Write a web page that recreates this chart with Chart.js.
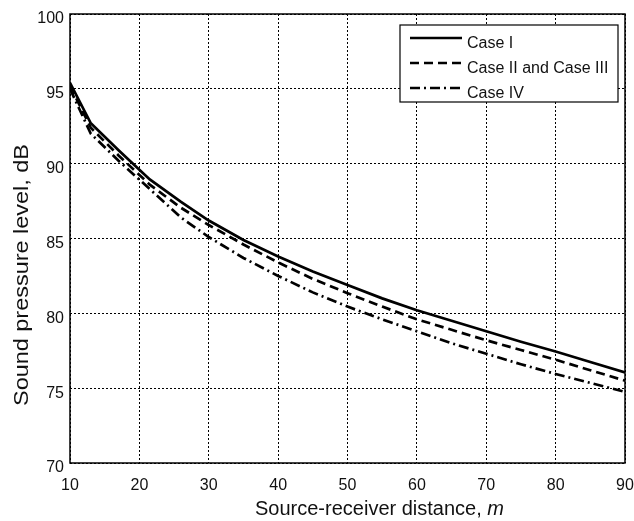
<!DOCTYPE html>
<html>
<head>
<meta charset="utf-8">
<script src="https://cdn.jsdelivr.net/npm/chart.js@4.4.1/dist/chart.umd.min.js"></script>
<style>
  html, body { margin: 0; padding: 0; background: #fff; }
  #wrap { width: 634px; height: 521px; }
</style>
</head>
<body>
<div id="wrap"><canvas id="chart" width="634" height="521"></canvas></div>
<script>
// distances (m) and sound pressure levels (dB)
const distances = [10, 13, 17, 21.5, 26, 30, 35, 40, 45, 50, 55, 60, 65, 70, 75, 80, 85, 90];
const caseI     = [95.4, 92.7, 90.9, 88.95, 87.45, 86.2, 84.9, 83.8, 82.8, 81.9, 81.0, 80.2, 79.5, 78.8, 78.1, 77.45, 76.75, 76.05];
const caseII    = [95.2, 92.4, 90.55, 88.6, 87.05, 85.9, 84.6, 83.4, 82.3, 81.35, 80.45, 79.6, 78.9, 78.2, 77.55, 76.9, 76.2, 75.5];
const caseIV    = [95.0, 92.0, 90.2, 88.3, 86.4, 85.1, 83.7, 82.5, 81.4, 80.45, 79.6, 78.8, 78.0, 77.3, 76.6, 75.95, 75.35, 74.75];
const seriesLabels = ["Case I", "Case II and Case III", "Case IV"];
const xTicks = [10, 20, 30, 40, 50, 60, 70, 80, 90];
const yTicks = [70, 75, 80, 85, 90, 95, 100];

const FONT = "'Liberation Sans', Arial, Helvetica, sans-serif";

const toPoints = (ys) => distances.map((d, i) => ({ x: d, y: ys[i] }));

const styles = [
  { dash: [] },
  { dash: [9, 5] },
  { dash: [10, 4, 2, 4] }
];

// frame, axis titles and the boxed legend, MATLAB style
const decor = {
  id: "decor",
  afterDraw(chart) {
    const ctx = chart.ctx;
    const a = chart.chartArea;
    ctx.save();

    // full box around the axes
    ctx.strokeStyle = "#000";
    ctx.lineWidth = 1.5;
    ctx.setLineDash([]);
    ctx.strokeRect(a.left, a.top, a.right - a.left, a.bottom - a.top);

    // y title
    ctx.save();
    ctx.translate(22, 275);
    ctx.rotate(-Math.PI / 2);
    ctx.font = "20px " + FONT;
    ctx.fillStyle = "#111";
    ctx.textAlign = "center";
    ctx.textBaseline = "middle";
    const yt = "Sound pressure level, dB";
    const w = ctx.measureText(yt).width;
    ctx.scale(262 / w, 1);
    ctx.fillText(yt, 0, 0);
    ctx.restore();

    // x title with italic unit
    ctx.font = "20px " + FONT;
    ctx.fillStyle = "#111";
    ctx.textAlign = "left";
    ctx.textBaseline = "alphabetic";
    const xt = "Source-receiver distance, ";
    ctx.fillText(xt, 255, 515);
    const xw = ctx.measureText(xt).width;
    ctx.font = "italic 20px " + FONT;
    ctx.fillText("m", 255 + xw, 515);

    // legend
    const lx = 400, ly = 25, lw = 218, lh = 77;
    ctx.fillStyle = "#fff";
    ctx.fillRect(lx, ly, lw, lh);
    ctx.strokeStyle = "#000";
    ctx.lineWidth = 1.2;
    ctx.strokeRect(lx, ly, lw, lh);
    const rows = [38, 63, 88];
    chart.data.datasets.forEach((ds, i) => {
      ctx.beginPath();
      ctx.lineWidth = 2.7;
      ctx.setLineDash(ds.borderDash || []);
      ctx.moveTo(410, rows[i]);
      ctx.lineTo(462, rows[i]);
      ctx.stroke();
      ctx.setLineDash([]);
      ctx.font = "16px " + FONT;
      ctx.fillStyle = "#111";
      ctx.textBaseline = "middle";
      ctx.fillText(ds.label, 467, rows[i] + 6);
    });

    ctx.restore();
  }
};

new Chart(document.getElementById("chart"), {
  type: "line",
  data: {
    datasets: [caseI, caseII, caseIV].map((ys, i) => ({
      label: seriesLabels[i],
      data: toPoints(ys),
      borderColor: "#000",
      borderWidth: 2.7,
      borderDash: styles[i].dash,
      pointRadius: 0,
      tension: 0,
      fill: false
    }))
  },
  options: {
    responsive: false,
    animation: false,
    layout: { padding: { left: 0, top: 14, right: 9, bottom: 0 } },
    plugins: {
      legend: { display: false },
      tooltip: { enabled: false }
    },
    scales: {
      x: {
        type: "linear",
        min: 10,
        max: 90,
        afterBuildTicks: (s) => { s.ticks = xTicks.map(v => ({ value: v })); },
        afterFit: (s) => { s.height = 58; s.paddingRight = 0; s.paddingLeft = 0; },
        border: { display: false, dash: [2, 2] },
        grid: { color: "#000", lineWidth: 1, drawTicks: false },
        ticks: { color: "#111", font: { family: FONT, size: 16 }, padding: 13, maxRotation: 0 }
      },
      y: {
        min: 70,
        max: 100,
        afterBuildTicks: (s) => { s.ticks = yTicks.map(v => ({ value: v })); },
        afterFit: (s) => { s.width = 70; s.paddingTop = 0; s.paddingBottom = 0; },
        border: { display: false, dash: [2, 2] },
        grid: { color: "#000", lineWidth: 1, drawTicks: false },
        ticks: { color: "#111", font: { family: FONT, size: 16 }, padding: 6, labelOffset: 5 }
      }
    }
  },
  plugins: [decor]
});
</script>
</body>
</html>
